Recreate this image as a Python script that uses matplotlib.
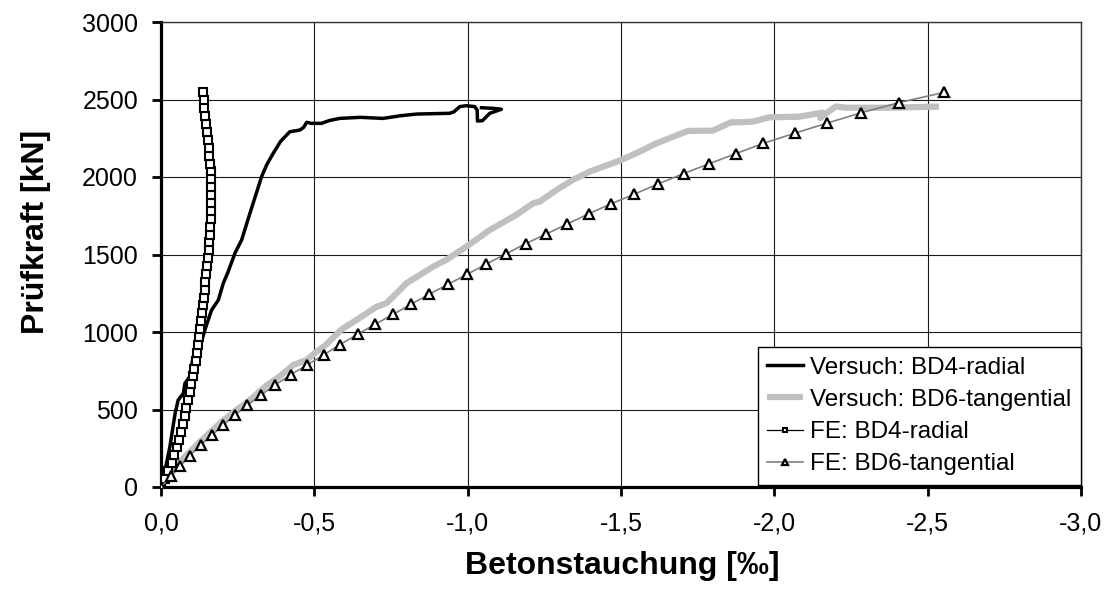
import matplotlib
matplotlib.use("Agg")
import matplotlib.pyplot as plt
from matplotlib.ticker import FixedLocator, FuncFormatter

plt.rcParams['font.family'] = ['Liberation Sans', 'DejaVu Sans']

# Versuch BD4-radial (measured), strain in per mille, load in kN
bd4_test_strain = [0, -0.008, -0.029, -0.046, -0.056, -0.073, -0.078, -0.094, -0.105,
                   -0.127, -0.143, -0.165, -0.187, -0.203, -0.219, -0.241, -0.263, -0.290,
                   -0.310, -0.328, -0.345, -0.366, -0.390, -0.420, -0.453, -0.465, -0.475,
                   -0.490, -0.523, -0.550, -0.583, -0.650, -0.724, -0.780, -0.833, -0.941,
                   -0.955, -0.974, -0.996, -1.023, -1.031, -1.032, -1.048, -1.072, -1.110,
                   -1.083, -1.045]
bd4_test_load = [0, 56, 260, 475, 561, 604, 669, 712, 841,
                 905, 1013, 1142, 1206, 1314, 1389, 1508, 1594, 1766,
                 1890, 2002, 2080, 2153, 2230, 2292, 2303, 2320, 2353,
                 2346, 2346, 2365, 2378, 2385, 2378, 2395, 2406, 2411,
                 2420, 2454, 2460, 2454, 2432, 2361, 2363, 2411, 2437,
                 2443, 2447]

# Versuch BD6-tangential (measured)
bd6_test_strain = [0, -0.030, -0.062, -0.127, -0.198, -0.246, -0.290, -0.339, -0.393,
                   -0.431, -0.475, -0.507, -0.534, -0.589, -0.637, -0.703, -0.735, -0.779,
                   -0.800, -0.887, -0.930, -0.995, -1.072, -1.158, -1.213, -1.235, -1.289,
                   -1.343, -1.397, -1.501, -1.560, -1.615, -1.718, -1.799, -1.859, -1.886,
                   -1.929, -1.984, -2.081, -2.157, -2.150, -2.165, -2.201, -2.233, -2.375,
                   -2.537]
bd6_test_load = [0, 80, 163, 292, 421, 497, 561, 647, 723,
                 787, 819, 873, 910, 1017, 1077, 1163, 1185, 1271,
                 1314, 1421, 1465, 1550, 1658, 1755, 1830, 1841, 1916,
                 1981, 2034, 2110, 2163, 2217, 2297, 2299, 2353, 2353,
                 2357, 2385, 2389, 2415, 2380, 2405, 2455, 2447, 2447,
                 2454]

# FE: BD4-radial
bd4_fe_strain = [0, -0.013, -0.024, -0.035, -0.044, -0.051, -0.058, -0.064, -0.071,
                 -0.077, -0.083, -0.089, -0.094, -0.099, -0.104, -0.109, -0.114, -0.118,
                 -0.122, -0.125, -0.128, -0.131, -0.134, -0.137, -0.140, -0.143, -0.145,
                 -0.147, -0.150, -0.152, -0.155, -0.157, -0.159, -0.161, -0.162, -0.163,
                 -0.164, -0.164, -0.164, -0.163, -0.162, -0.160, -0.158, -0.156, -0.153,
                 -0.150, -0.147, -0.144, -0.141, -0.139, -0.136]
bd4_fe_load = [0, 51, 102, 153, 204, 255, 306, 356, 407,
               458, 509, 560, 611, 662, 713, 764, 815, 866,
               916, 967, 1018, 1069, 1120, 1171, 1222, 1273, 1324,
               1375, 1426, 1476, 1527, 1578, 1629, 1680, 1731, 1782,
               1833, 1884, 1935, 1986, 2036, 2087, 2138, 2189, 2240,
               2291, 2342, 2393, 2444, 2495, 2546]

# FE: BD6-tangential
bd6_fe_strain = [0, -0.033, -0.062, -0.093, -0.129, -0.165, -0.203, -0.241, -0.282,
                 -0.326, -0.372, -0.423, -0.476, -0.530, -0.583, -0.641, -0.698, -0.756,
                 -0.814, -0.874, -0.936, -0.998, -1.061, -1.124, -1.189, -1.256, -1.325,
                 -1.395, -1.469, -1.544, -1.621, -1.704, -1.788, -1.875, -1.964, -2.066,
                 -2.173, -2.284, -2.407, -2.554]
bd6_fe_load = [0, 71, 135, 201, 270, 333, 399, 465, 529,
               594, 658, 725, 787, 852, 918, 985, 1050, 1113,
               1178, 1243, 1308, 1372, 1439, 1503, 1570, 1632, 1697,
               1763, 1828, 1890, 1955, 2022, 2086, 2151, 2217, 2282,
               2348, 2415, 2480, 2546]

series_labels = ["Versuch: BD4-radial", "Versuch: BD6-tangential",
                 "FE: BD4-radial", "FE: BD6-tangential"]

x_ticks = [0.0, -0.5, -1.0, -1.5, -2.0, -2.5, -3.0]
y_ticks = [0, 500, 1000, 1500, 2000, 2500, 3000]

fig = plt.figure(figsize=(11.10, 5.99), dpi=100)
ax = fig.add_axes([161 / 1110, 112 / 599, 920 / 1110, 465 / 599])

ax.plot(bd4_test_strain, bd4_test_load, color='black', lw=2.5,
        solid_joinstyle='round', label=series_labels[0], zorder=3)
ax.plot(bd6_test_strain, bd6_test_load, color='#c0c0c0', lw=4.5,
        solid_capstyle='butt', solid_joinstyle='round', label=series_labels[1], zorder=3)
ax.plot(bd4_fe_strain, bd4_fe_load, color='black', lw=0.9, marker='s', ms=5.8,
        mfc='white', mec='black', mew=1.5, label=series_labels[2], zorder=4)
ax.plot(bd6_fe_strain, bd6_fe_load, color='#808080', lw=1.2, marker='^', ms=6.6,
        mfc='white', mec='black', mew=1.6, label=series_labels[3], zorder=5)

ax.set_xlim(0, -3.0)
ax.set_ylim(0, 3000)
ax.xaxis.set_major_locator(FixedLocator(x_ticks))
ax.yaxis.set_major_locator(FixedLocator(y_ticks))
ax.xaxis.set_major_formatter(FuncFormatter(lambda v, p: f"{v:.1f}".replace('.', ',').replace('-0,0', '0,0')))
ax.yaxis.set_major_formatter(FuncFormatter(lambda v, p: f"{v:.0f}"))

ax.grid(True, color='#1a1a1a', lw=0.8)
ax.set_axisbelow(True)

for side in ('left', 'bottom'):
    ax.spines[side].set_linewidth(2.3)
for side in ('top', 'right'):
    ax.spines[side].set_linewidth(1.0)
    ax.spines[side].set_color('#333333')

ax.tick_params(axis='both', direction='out', length=6.5, width=2.0,
               labelsize=18, colors='black')
ax.tick_params(axis='x', pad=11)
ax.tick_params(axis='y', pad=10)

fig.text(622 / 1110, 1 - 566 / 599, "Betonstauchung [‰]", ha='center', va='center',
         fontsize=23, fontweight='bold')
fig.text(36 / 1110, 1 - 232 / 599, "Prüfkraft [kN]", ha='center', va='center',
         rotation=90, fontsize=23, fontweight='bold')

leg = ax.legend(loc='lower right', bbox_to_anchor=(1.0, 0.004), fontsize=17.5,
                frameon=True, fancybox=False, framealpha=1, edgecolor='black',
                borderaxespad=0.0, handlelength=1.45, handletextpad=0.3,
                labelspacing=0.42, borderpad=0.4, markerscale=0.55)
leg.get_frame().set_linewidth(1.0)

fig.savefig("out.png", dpi=100)
